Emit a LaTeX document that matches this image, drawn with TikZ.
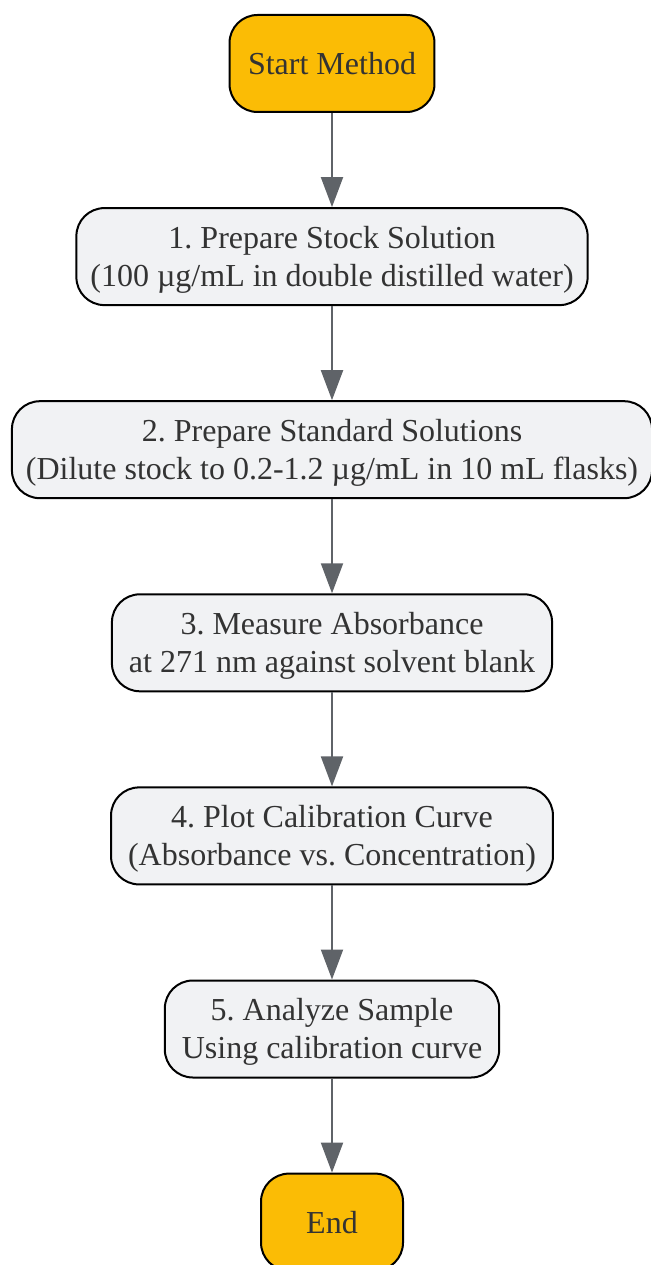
\documentclass[tikz,border=0pt]{standalone}
\usepackage{fontspec}
\setmainfont{Liberation Serif}
\usetikzlibrary{positioning,arrows.meta}
\frenchspacing
\definecolor{amber}{HTML}{FBBC05}
\definecolor{boxgray}{HTML}{F1F2F4}
\definecolor{arrowgray}{HTML}{5F6368}
\definecolor{textgray}{HTML}{333333}
\tikzset{
  base/.style = {draw=black, line width=2pt, rounded corners=28pt, minimum height=97pt,
    inner xsep=17pt, align=center, text=textgray, font=\fontsize{32}{38}\selectfont},
  term/.style = {base, fill=amber, inner xsep=18.5pt, minimum width=142pt},
  stepbox/.style = {base, fill=boxgray, text height=66.5pt, text depth=6.9pt},
  flow/.style = {-{Triangle[length=30pt,width=22pt]}, line width=2pt, draw=arrowgray}
}
\begin{document}
\begin{tikzpicture}[node distance = 94.1pt]
   \useasboundingbox (0,0) rectangle (650pt,-1265pt);
   \node[term] (start) at (332pt,-63.5pt) {Start Method};
   \node[stepbox, below = of start, inner xsep=14pt] (stock) {1. Prepare Stock Solution\\(100 µg/mL in double distilled water)};
   \node[stepbox, below = of stock, inner xsep=14pt] (standards) {2. Prepare Standard Solutions\\(Dilute stock to 0.2-1.2 µg/mL in 10 mL flasks)};
   \node[stepbox, below = of standards] (measure) {3. Measure Absorbance\\at 271 nm against solvent blank};
   \node[stepbox, below = of measure] (plot) {4. Plot Calibration Curve\\(Absorbance vs. Concentration)};
   \node[stepbox, below = of plot] (analyze) {5. Analyze Sample\\Using calibration curve};
   \node[term, below = of analyze] (stop) {End};
   \draw[flow] (start) -- (stock);
   \draw[flow] (stock) -- (standards);
   \draw[flow] (standards) -- (measure);
   \draw[flow] (measure) -- (plot);
   \draw[flow] (plot) -- (analyze);
   \draw[flow] (analyze) -- (stop);
\end{tikzpicture}
\end{document}
